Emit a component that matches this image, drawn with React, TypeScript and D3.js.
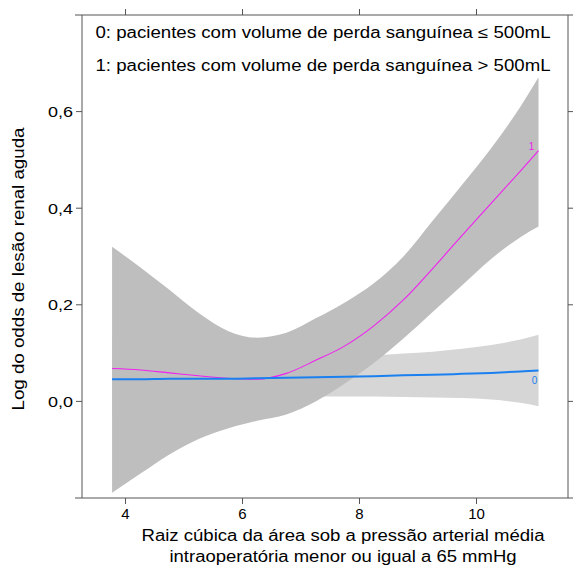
import React from "react";
import * as d3 from "d3";

// ---- data ----
const xGrid = [3.77, 4.25, 4.75, 5.25, 5.75, 6.25, 6.75, 7.25, 7.75, 8.25, 8.75, 9.25, 9.75, 10.25, 10.75, 11.06];

const fit1 = [0.068, 0.065, 0.059, 0.053, 0.048, 0.046, 0.058, 0.085, 0.115, 0.157, 0.21, 0.275, 0.343, 0.41, 0.477, 0.519];
const upper1 = [0.32, 0.278, 0.231, 0.183, 0.146, 0.132, 0.142, 0.172, 0.205, 0.245, 0.3, 0.374, 0.448, 0.524, 0.61, 0.671];
const lower1 = [-0.189, -0.15, -0.11, -0.078, -0.056, -0.04, -0.027, 0.0, 0.037, 0.08, 0.13, 0.185, 0.24, 0.295, 0.34, 0.362];

const fit0 = [0.046, 0.046, 0.047, 0.047, 0.047, 0.048, 0.049, 0.05, 0.051, 0.052, 0.054, 0.055, 0.057, 0.059, 0.062, 0.064];
const upper0 = [0.13, 0.115, 0.104, 0.097, 0.092, 0.09, 0.09, 0.091, 0.093, 0.095, 0.099, 0.103, 0.109, 0.117, 0.128, 0.138];
const lower0 = [-0.035, -0.02, -0.008, 0.0, 0.005, 0.008, 0.009, 0.01, 0.01, 0.01, 0.009, 0.008, 0.007, 0.004, -0.003, -0.01];

const xTicks = [4, 6, 8, 10];
const yTicks = [0.0, 0.2, 0.4, 0.6];
const yTickLabels = ["0,0", "0,2", "0,4", "0,6"];

const legendLines = [
  "0: pacientes com volume de perda sanguínea ≤ 500mL",
  "1: pacientes com volume de perda sanguínea > 500mL",
];
const xLabelLines = [
  "Raiz cúbica da área sob a pressão arterial média",
  "intraoperatória menor ou igual a 65 mmHg",
];
const yLabel = "Log do odds de lesão renal aguda";

const FONT = "'Liberation Sans', Arial, Helvetica, sans-serif";

export default function App() {
  const left = 82, right = 568, top = 15, bottom = 498;
  const x = d3.scaleLinear().domain([3.256, 11.564]).range([left, right]);
  const y = d3.scaleLinear().domain([-0.2, 0.8]).range([bottom, top]);

  const idx = xGrid.map((_, i) => i);
  const area = (lo: number[], hi: number[]) =>
    d3
      .area<number>()
      .x((i) => x(xGrid[i]))
      .y0((i) => y(lo[i]))
      .y1((i) => y(hi[i]))
      .curve(d3.curveMonotoneX)(idx) || "";
  const line = (v: number[]) =>
    d3
      .line<number>()
      .x((i) => x(xGrid[i]))
      .y((i) => y(v[i]))
      .curve(d3.curveMonotoneX)(idx) || "";

  const axisColor = "#555";
  const last = xGrid.length - 1;
  const legendW = [455, 455];
  const xLabelW = [403, 347];

  return (
    <svg
      width={573}
      height={570}
      style={{ position: "absolute", left: 0, top: 0, background: "#fff" }}
      fontFamily={FONT}
    >
      {/* bands */}
      <path d={area(lower0, upper0)} fill="#d6d6d6" />
      <path d={area(lower1, upper1)} fill="#bebebe" />
      {/* lines */}
      <path d={line(fit1)} fill="none" stroke="#f020f0" strokeWidth={1.1} />
      <path d={line(fit0)} fill="none" stroke="#1a80f0" strokeWidth={2} />
      <text x={x(xGrid[last]) - 7} y={y(fit1[last]) - 1} fontSize={10} fill="#f020f0" textAnchor="middle">1</text>
      <text x={x(xGrid[last]) - 4} y={y(fit0[last]) + 14} fontSize={10} fill="#1a80f0" textAnchor="middle">0</text>

      {/* frame */}
      <line x1={75} x2={573} y1={top} y2={top} stroke={axisColor} />
      <line x1={75} x2={573} y1={bottom} y2={bottom} stroke={axisColor} />
      <line x1={left} x2={left} y1={top} y2={bottom} stroke={axisColor} />
      <line x1={right} x2={right} y1={top} y2={bottom} stroke={axisColor} />

      {/* x ticks */}
      {xTicks.map((t) => (
        <g key={"xt" + t}>
          <line x1={x(t)} x2={x(t)} y1={bottom} y2={bottom + 6} stroke={axisColor} />
          <line x1={x(t)} x2={x(t)} y1={top} y2={top - 6} stroke={axisColor} />
          <text x={x(t)} y={bottom + 21} fontSize={15} textAnchor="middle" fill="#000">{t}</text>
        </g>
      ))}
      {/* y ticks */}
      {yTicks.map((t, i) => (
        <g key={"yt" + t}>
          <line x1={left} x2={left - 6} y1={y(t)} y2={y(t)} stroke={axisColor} />
          <line x1={right} x2={right + 6} y1={y(t)} y2={y(t)} stroke={axisColor} />
          <text x={73} y={y(t) + 5.5} fontSize={15} textAnchor="end" fill="#000"
            textLength={25} lengthAdjust="spacingAndGlyphs">{yTickLabels[i]}</text>
        </g>
      ))}

      {/* legend text */}
      {legendLines.map((s, i) => (
        <text key={"lg" + i} x={323} y={38 + i * 33} fontSize={16} textAnchor="middle" fill="#000"
          textLength={legendW[i]} lengthAdjust="spacingAndGlyphs">{s}</text>
      ))}

      {/* axis labels */}
      {xLabelLines.map((s, i) => (
        <text key={"xl" + i} x={343} y={541 + i * 21} fontSize={16} textAnchor="middle" fill="#000"
          textLength={xLabelW[i]} lengthAdjust="spacingAndGlyphs">{s}</text>
      ))}
      <text
        transform={`translate(24,269) rotate(-90)`}
        fontSize={16}
        textAnchor="middle"
        fill="#000"
        textLength={283}
        lengthAdjust="spacingAndGlyphs"
      >
        {yLabel}
      </text>
    </svg>
  );
}
